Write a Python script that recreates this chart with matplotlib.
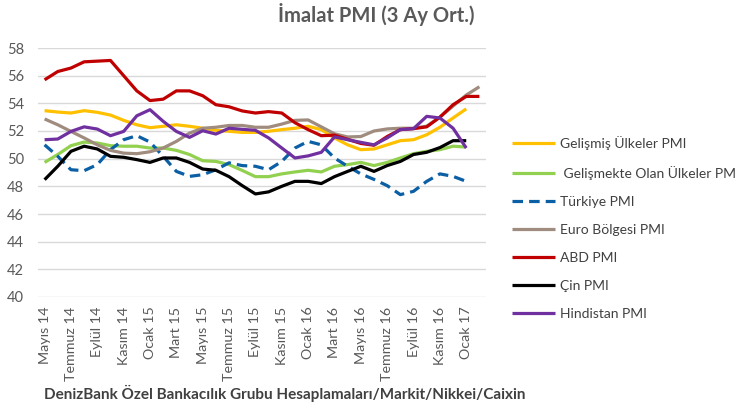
import matplotlib
matplotlib.use("Agg")
import matplotlib.pyplot as plt
import numpy as np

plt.rcParams['font.family'] = ['Lato', 'DejaVu Sans']

months = ["Mayıs 14", "Haziran 14", "Temmuz 14", "Ağustos 14", "Eylül 14", "Ekim 14",
          "Kasım 14", "Aralık 14", "Ocak 15", "Şubat 15", "Mart 15", "Nisan 15",
          "Mayıs 15", "Haziran 15", "Temmuz 15", "Ağustos 15", "Eylül 15", "Ekim 15",
          "Kasım 15", "Aralık 15", "Ocak 16", "Şubat 16", "Mart 16", "Nisan 16",
          "Mayıs 16", "Haziran 16", "Temmuz 16", "Ağustos 16", "Eylül 16", "Ekim 16",
          "Kasım 16", "Aralık 16", "Ocak 17", "Şubat 17"]

gelismis = [53.47, 53.37, 53.3, 53.47, 53.35, 53.15, 52.77, 52.45, 52.24, 52.34, 52.45,
            52.34, 52.2, 52.05, 51.98, 51.9, 51.9, 51.98, 52.1, 52.2, 52.34, 52.1, 51.5,
            51.0, 50.65, 50.7, 51.0, 51.3, 51.37, 51.73, 52.27, 52.94, 53.6]
gelismekte = [49.73, 50.3, 50.94, 51.2, 51.13, 50.94, 50.9, 50.9, 50.77, 50.77, 50.6,
              50.3, 49.85, 49.8, 49.57, 49.15, 48.7, 48.7, 48.9, 49.04, 49.16, 49.04,
              49.45, 49.57, 49.73, 49.5, 49.73, 50.05, 50.36, 50.53, 50.65, 50.9, 50.84]
turkiye = [51.0, 50.17, 49.2, 49.13, 49.57, 50.65, 51.37, 51.66, 51.2, 50.17, 49.08,
           48.72, 48.84, 49.2, 49.7, 49.5, 49.45, 49.2, 49.8, 50.77, 51.25, 51.0, 50.05,
           49.45, 48.9, 48.5, 48.05, 47.4, 47.64, 48.36, 48.9, 48.72, 48.36]
euro = [52.87, 52.45, 51.97, 51.5, 51.0, 50.6, 50.4, 50.36, 50.5, 50.77, 51.25, 51.85,
        52.2, 52.27, 52.4, 52.4, 52.27, 52.27, 52.5, 52.77, 52.8, 52.3, 51.8, 51.57,
        51.6, 52.0, 52.15, 52.2, 52.2, 52.35, 53.0, 53.8, 54.6, 55.2]
abd = [55.7, 56.3, 56.55, 57.0, 57.05, 57.1, 56.0, 54.9, 54.2, 54.3, 54.9, 54.9, 54.55,
       53.9, 53.75, 53.45, 53.3, 53.4, 53.3, 52.6, 52.1, 51.66, 51.7, 51.4, 51.1, 50.97,
       51.6, 52.1, 52.17, 52.3, 53.0, 53.9, 54.5, 54.5]
cin = [48.48, 49.45, 50.53, 50.9, 50.7, 50.17, 50.1, 49.93, 49.73, 50.05, 50.05, 49.73,
       49.25, 49.16, 48.7, 48.05, 47.45, 47.6, 48.0, 48.36, 48.36, 48.2, 48.7, 49.08,
       49.45, 49.08, 49.5, 49.8, 50.3, 50.46, 50.8, 51.3, 51.3]
hindistan = [51.37, 51.42, 51.97, 52.3, 52.14, 51.66, 51.97, 53.1, 53.54, 52.7, 51.97,
             51.54, 52.02, 51.78, 52.2, 52.12, 52.05, 51.5, 50.77, 50.05, 50.2, 50.46,
             51.57, 51.37, 51.18, 51.0, 51.5, 52.1, 52.17, 53.06, 52.94, 52.2, 50.77]

series = [
    ("Gelişmiş Ülkeler PMI", gelismis, "#FFC000", "-"),
    (" Gelişmekte Olan Ülkeler PMI", gelismekte, "#92D050", "-"),
    ("Türkiye PMI", turkiye, "#0B5FA5", "--"),
    ("Euro Bölgesi PMI", euro, "#A08C7E", "-"),
    ("ABD PMI", abd, "#C00000", "-"),
    ("Çin PMI", cin, "#000000", "-"),
    ("Hindistan PMI", hindistan, "#7030A0", "-"),
]

fig = plt.figure(figsize=(7.36, 4.08), dpi=100)
ax = fig.add_axes([38/736, 1-297/408, (486-38)/736, (297-48)/408])

for label, vals, color, ls in series:
    x = np.arange(len(vals))
    line, = ax.plot(x, vals, color=color, lw=2.3, label=label, solid_capstyle='butt')
    if ls == "--":
        line.set_dashes((3.3, 1.9))

ax.set_xlim(-0.5, len(months) - 0.5)
ax.set_ylim(40, 58)
ax.set_yticks(np.arange(40, 59, 2))
ax.yaxis.grid(True, color="#D9D9D9", lw=1)
ax.set_axisbelow(True)
for s in ax.spines.values():
    s.set_visible(False)
ax.tick_params(axis='both', length=0)
ax.tick_params(axis='y', labelsize=10.5, labelcolor="#595959", pad=10)
tick_idx = list(range(0, len(months), 2))
ax.set_xticks(tick_idx)
ax.set_xticklabels([months[i] for i in tick_idx], rotation=90, fontsize=10.3,
                   color="#595959")
ax.tick_params(axis='x', pad=7)

fig.text(376/736, 1-15/408, "İmalat PMI (3 Ay Ort.)", ha="center", va="center",
         fontsize=14.5, fontweight="bold", color="#595959")
fig.text(44/736, 1-393/408,
         "DenizBank Özel Bankacılık Grubu Hesaplamaları/Markit/Nikkei/Caixin",
         ha="left", va="center", fontsize=11, fontweight="bold", color="#404040")

leg = fig.legend(loc="center left", bbox_to_anchor=(512/736, 1-228/408),
                 frameon=False, fontsize=10, labelcolor="#404040",
                 handlelength=3.1, handletextpad=0.35, labelspacing=1.15,
                 borderpad=0, borderaxespad=0)

fig.savefig("out.png", dpi=100)
